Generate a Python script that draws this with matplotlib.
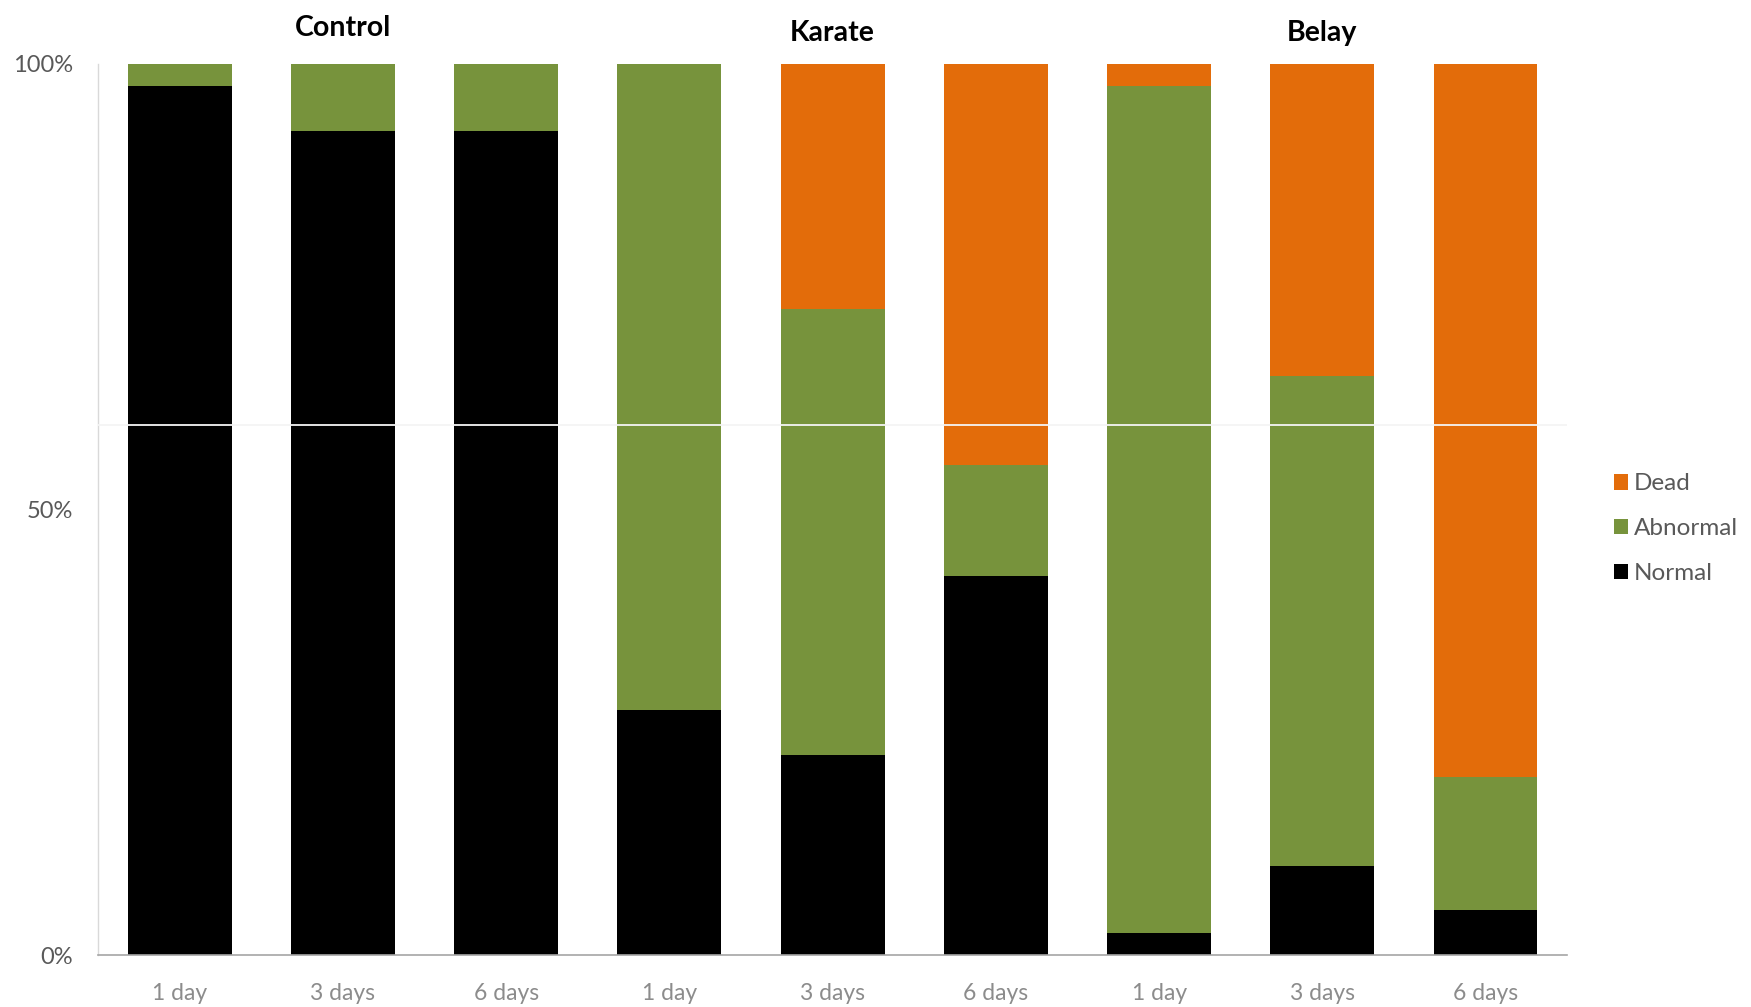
import matplotlib
matplotlib.use("Agg")
import matplotlib.pyplot as plt
import numpy as np

plt.rcParams['font.family'] = ['Lato', 'DejaVu Sans']

groups = ["Control", "Karate", "Belay"]
timepoints = ["1 day", "3 days", "6 days"]
tick_labels = timepoints * 3

normal = [97.5, 92.5, 92.5, 27.5, 22.5, 42.5, 2.5, 10.0, 5.0]
abnormal = [2.5, 7.5, 7.5, 72.5, 50.0, 12.5, 95.0, 55.0, 15.0]
dead = [0.0, 0.0, 0.0, 0.0, 27.5, 45.0, 2.5, 35.0, 80.0]

c_normal = "#000000"
c_abnormal = "#77933c"
c_dead = "#e36c0a"

fig = plt.figure(figsize=(17.51, 10.07), dpi=100)
ax = fig.add_axes([0.056, 0.0516, 0.839, 0.885])

x = np.arange(len(normal))
w = 0.636
n = np.array(normal)
a = np.array(abnormal)
d = np.array(dead)

b_norm = ax.bar(x, n, w, color=c_normal, label="Normal", zorder=2)
b_abn = ax.bar(x, a, w, bottom=n, color=c_abnormal, label="Abnormal", zorder=2)
b_dead = ax.bar(x, d, w, bottom=n + a, color=c_dead, label="Dead", zorder=2)

# thin light rule across the bars
ax.axhline(59.5, color="#f4f4f4", lw=1.3, zorder=3)

ax.set_xlim(-0.5, len(normal) - 0.5)
ax.set_ylim(0, 100)
ax.set_yticks([0, 50, 100])
ax.set_yticklabels(["0%", "50%", "100%"], fontsize=17, color="#595959")
ax.set_xticks(x)
ax.set_xticklabels(tick_labels, fontsize=16.5, color="#8c8c8c")
ax.tick_params(axis="both", length=0)
ax.tick_params(axis="y", pad=18)
ax.tick_params(axis="x", pad=20)

for s in ["top", "right"]:
    ax.spines[s].set_visible(False)
ax.spines["left"].set_color("#d9d9d9")
ax.spines["bottom"].set_color("#a6a6a6")
ax.spines["left"].set_linewidth(1.0)
ax.spines["bottom"].set_linewidth(1.2)

# group headings centred over the middle bar of each group
title_y = [102.6, 102.0, 102.0]
for gi, g in enumerate(groups):
    ax.text(gi * 3 + 1, title_y[gi], g, ha="center", va="bottom",
            fontsize=20.5, fontweight="bold", color="black")

handles = [b_dead, b_abn, b_norm]
leg = fig.legend(handles, ["Dead", "Abnormal", "Normal"],
                 loc="center left", bbox_to_anchor=(0.909, 0.475),
                 frameon=False, fontsize=17.5, handlelength=0.6,
                 handleheight=0.6, handletextpad=0.25, labelspacing=0.98)
for t in leg.get_texts():
    t.set_color("#595959")

fig.savefig("out.png", dpi=100)
